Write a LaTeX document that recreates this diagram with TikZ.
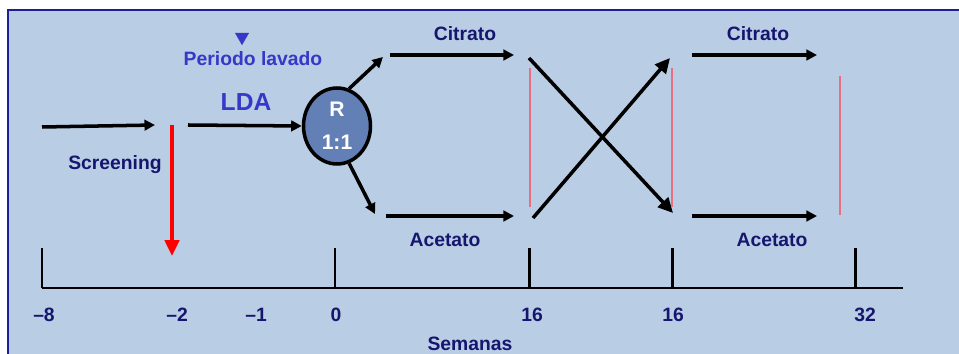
\documentclass[tikz,border=0pt]{standalone}
\usepackage{fontspec}
\setmainfont{Liberation Sans}
\usetikzlibrary{positioning, arrows.meta, shapes.geometric}
\definecolor{fondo}{RGB}{185,205,228}
\definecolor{marino}{RGB}{22,22,110}
\definecolor{azul}{RGB}{55,55,200}
\definecolor{bola}{RGB}{98,127,182}
\definecolor{borde}{RGB}{30,30,150}
\definecolor{rosa}{RGB}{232,110,130}

\begin{document}
\begin{tikzpicture}[
    x=0.02cm, y=-0.02cm,
    label/.style={font=\bfseries\fontsize{11}{13}\selectfont, text=marino, inner sep=0pt},
    numero/.style={font=\bfseries\fontsize{11}{13}\selectfont, text=marino, inner sep=0pt},
    arrow/.style={-{Triangle[length=6pt, width=6pt]}, line width=2pt},
    cruz/.style={-{Triangle[length=8.5pt, width=8pt]}, line width=2pt},
    tick/.style={line width=1.7pt},
    corte/.style={draw=rosa, line width=0.6pt}
]
\useasboundingbox (0,0) rectangle (959,354);
\fill[fondo] (8,10) rectangle (959,354);
\draw[borde, line width=1.2pt] (8,354) -- (8,10) -- (959,10);

% eje de semanas
\coordinate (ax0) at (42,288);
\coordinate (ax1) at (903,288);
\draw[tick] (ax0) -- (ax1);
\foreach \x/\n in {42/m8, 335/c0, 529/s16a, 672/s16b, 855/s32}
    \draw[tick] (\x,248) coordinate (t\n) -- (\x,288);
\node[numero] (lm8) at (44,315) {--8};
\node[numero] (lm2) at (177,315) {--2};
\node[numero] (lm1) at (256,315) {--1};
\node[numero] (l0) at (336,315) {0};
\node[numero] (l16a) at (532,315) {16};
\node[numero] (l16b) at (673,315) {16};
\node[numero] (l32) at (865,315) {32};
\node[label] (sem) at (470,344) {Semanas};

% fase previa
\coordinate (a0) at (42,127);
\coordinate (a1) at (155,125);
\draw[arrow] (a0) -- (a1);
\node[label] (scr) at (115,165) {Screening};
\coordinate (r0) at (172,125);
\coordinate (r1) at (172,256);
\draw[-{Triangle[length=9pt, width=8pt]}, red, line width=2.2pt] (r0) -- (r1);

\node[ellipse, draw, fill=bola, line width=2pt, inner sep=0pt,
      minimum width=1.34cm, minimum height=1.52cm, text=white, align=center,
      font=\bfseries\fontsize{12}{19}\selectfont] (rand) at (337,126) {R\\1:1};
\coordinate (b0) at (188,125);
\draw[arrow] (b0) -- (rand.west);
\node[font=\bfseries\fontsize{14}{16}\selectfont, text=azul, inner sep=0pt] (lda) at (246,102) {LDA};
\node[font=\bfseries\fontsize{11}{13}\selectfont, text=azul, inner sep=0pt] (lav) at (253,59) {Periodo lavado};
\node[isosceles triangle, shape border rotate=-90, fill=azul, inner sep=0pt,
      minimum height=7pt, minimum width=8pt, isosceles triangle apex angle=60] (marca) at (242,37) {};

% rama superior / inferior
\coordinate (up) at (383,57);
\coordinate (dn) at (375,214);
\draw[arrow] (rand.72) -- (up);
\draw[arrow] (rand.-72) -- (dn);
\coordinate (c1a) at (390,55);
\coordinate (c1b) at (514,55);
\coordinate (a1a) at (386,216);
\coordinate (a1b) at (514,216);
\draw[arrow] (c1a) -- (c1b);
\draw[arrow] (a1a) -- (a1b);
\node[label] (cit1) at (465,34) {Citrato};
\node[label] (ace1) at (445,240) {Acetato};

% cruce
\coordinate (x1a) at (529,58);
\coordinate (x1b) at (673,213);
\coordinate (x2a) at (533,218);
\coordinate (x2b) at (670,58);
\draw[cruz] (x1a) -- (x1b);
\draw[cruz] (x2a) -- (x2b);

% segunda fase
\coordinate (c2a) at (692,55);
\coordinate (c2b) at (817,55);
\coordinate (a2a) at (692,216);
\coordinate (a2b) at (817,216);
\draw[arrow] (c2a) -- (c2b);
\draw[arrow] (a2a) -- (a2b);
\node[label] (cit2) at (758,34) {Citrato};
\node[label] (ace2) at (772,240) {Acetato};

% lineas de corte
\foreach \x/\a/\b in {530/68/207, 672/68/207, 840/76/215}
    \draw[corte] (\x,\a) -- (\x,\b);

\end{tikzpicture}
\end{document}
